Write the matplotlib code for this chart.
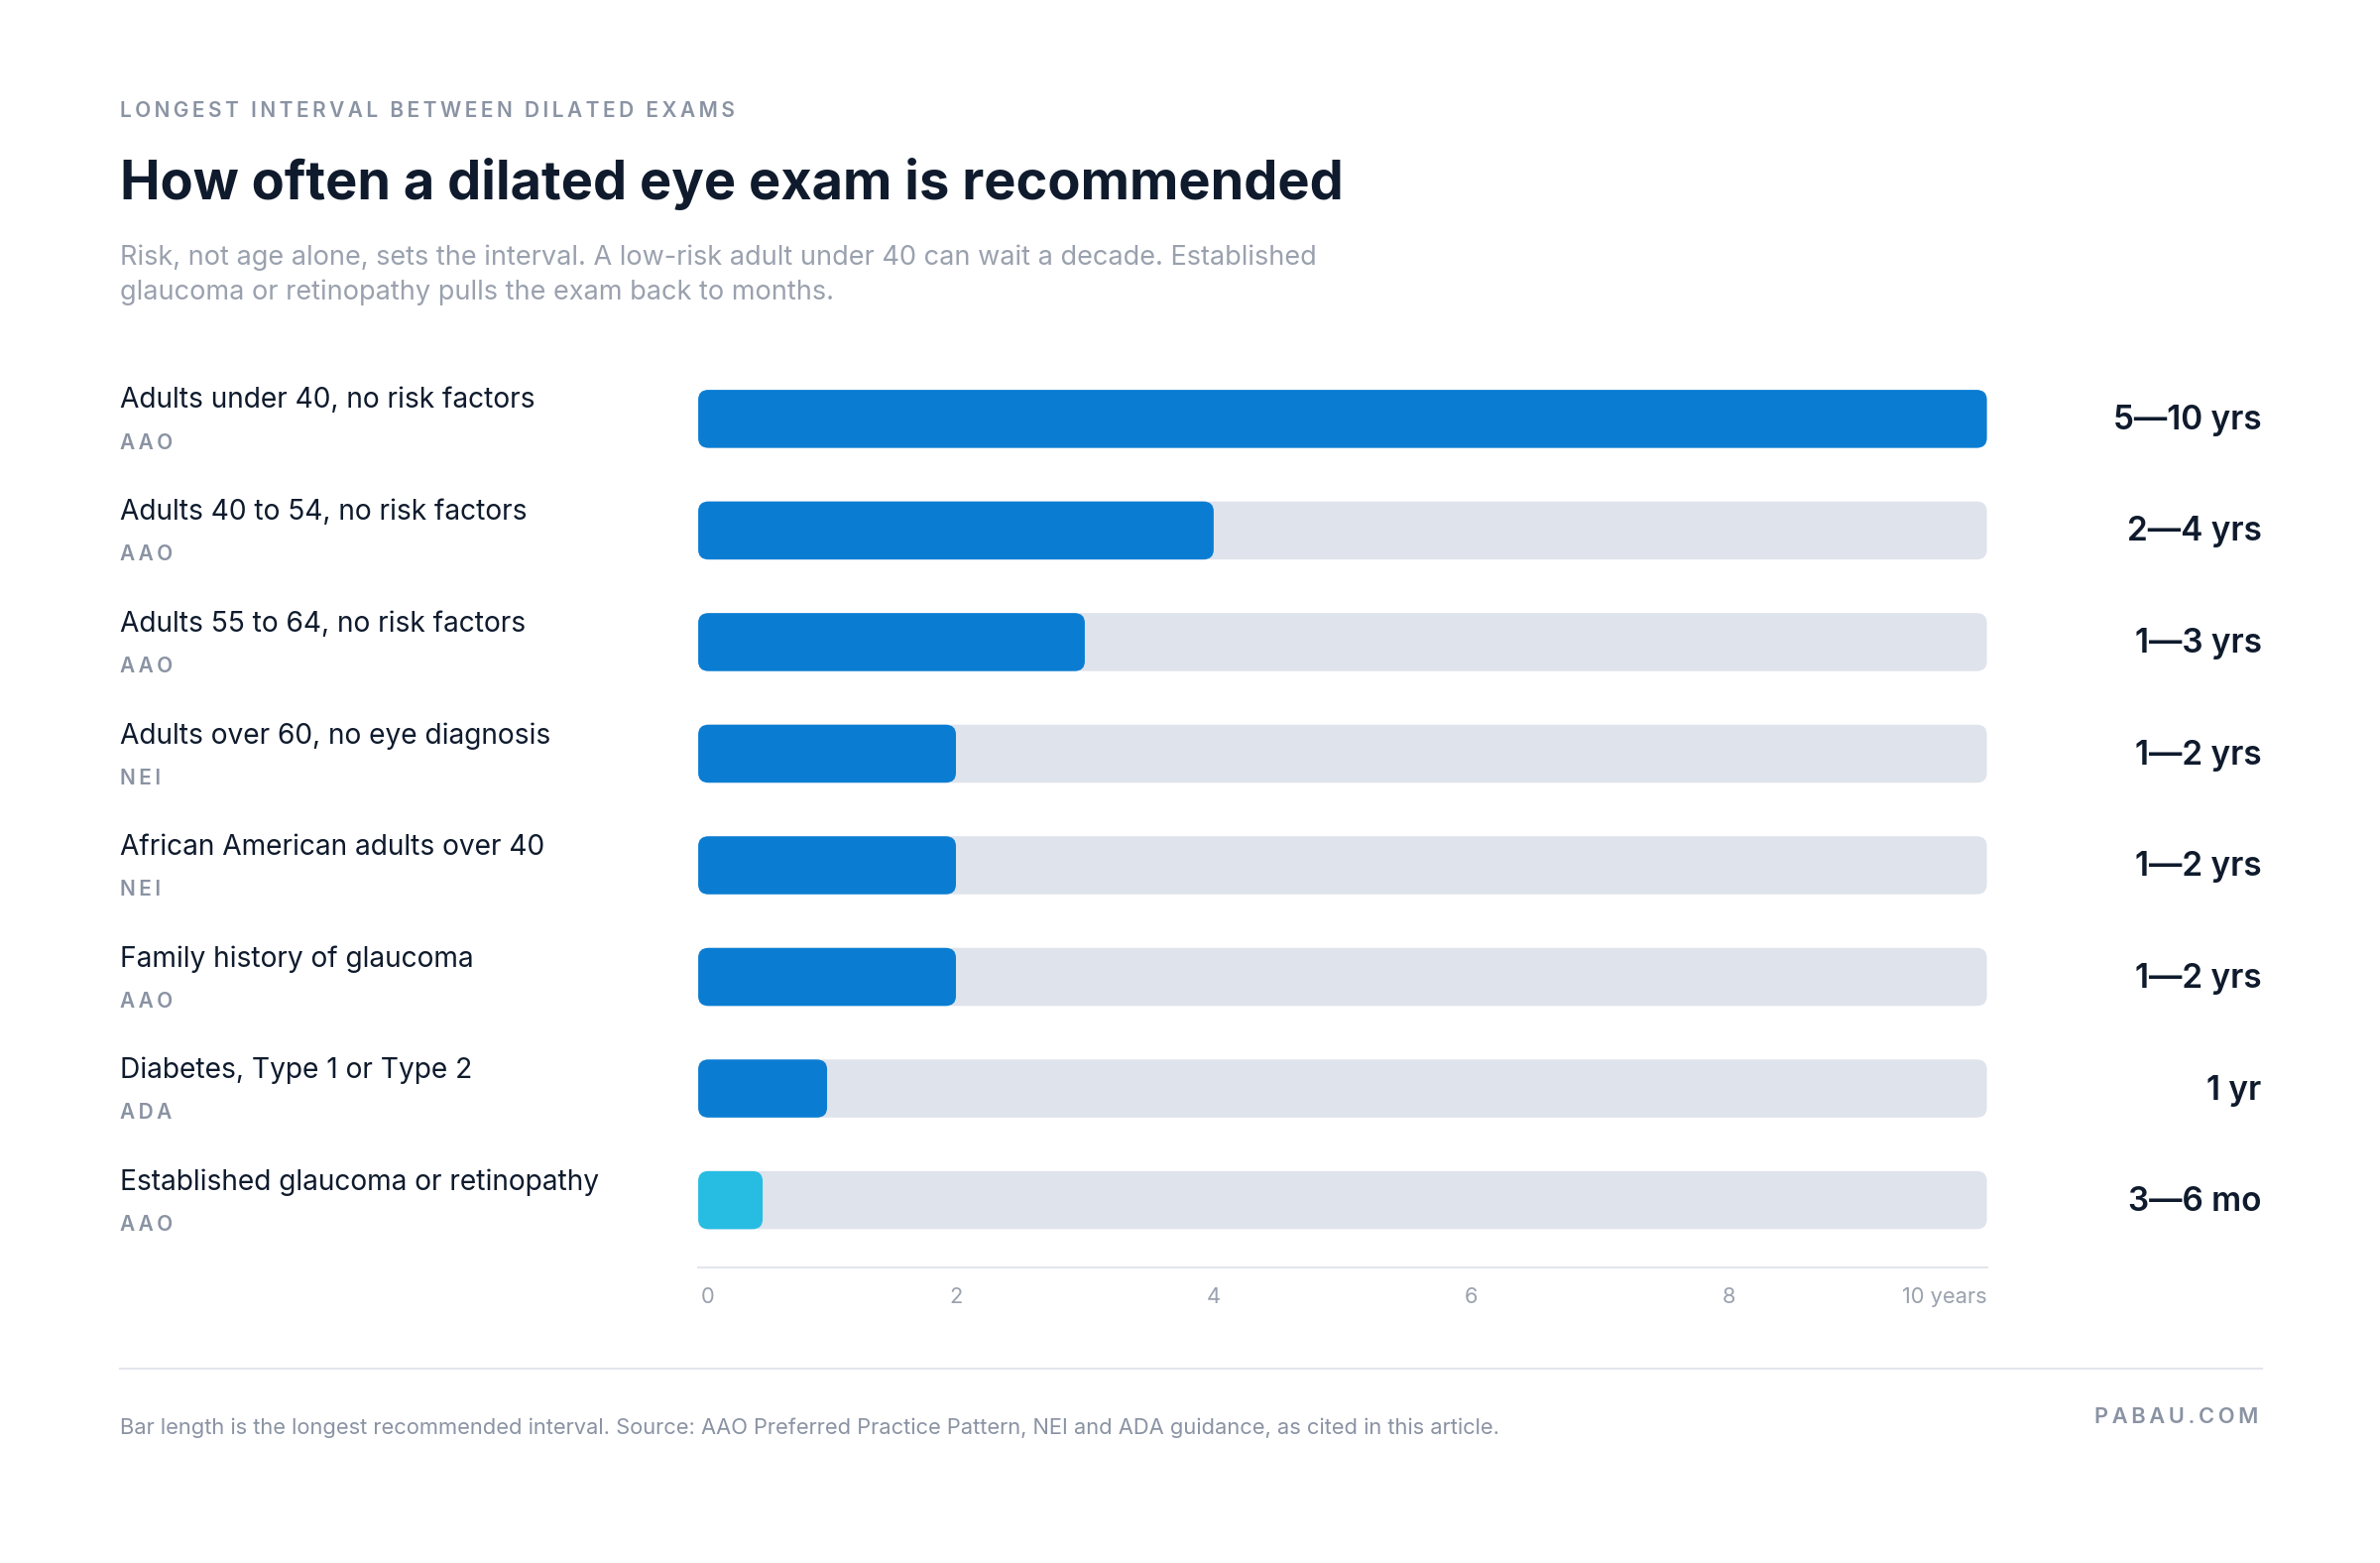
import matplotlib.pyplot as plt
from matplotlib.patches import FancyBboxPatch
from matplotlib.lines import Line2D

plt.rcParams['font.family'] = ['Inter', 'DejaVu Sans']

categories = ["Adults under 40, no risk factors", "Adults 40 to 54, no risk factors",
              "Adults 55 to 64, no risk factors", "Adults over 60, no eye diagnosis",
              "African American adults over 40", "Family history of glaucoma",
              "Diabetes, Type 1 or Type 2", "Established glaucoma or retinopathy"]
sources = ["AAO", "AAO", "AAO", "NEI", "NEI", "AAO", "ADA", "AAO"]
values = [10, 4, 3, 2, 2, 2, 1, 0.5]
value_labels = ["5—10 yrs", "2—4 yrs", "1—3 yrs", "1—2 yrs", "1—2 yrs", "1—2 yrs", "1 yr", "3—6 mo"]
ticks = [0, 2, 4, 6, 8, 10]
tick_labels = ["0", "2", "4", "6", "8", "10 years"]

W, H = 1568.0, 1030.0
fig = plt.figure(figsize=(16, 1576 / 150), dpi=150)
fig.patch.set_facecolor("white")

def fx(x):
    return x / W

def fy(y):
    return 1 - y / H

def t(x, y, s, **kw):
    fig.text(fx(x), fy(y), s, **kw)

def spaced(s):
    return "\u2009".join(s)

dark = "#0F1B2D"
grey = "#8A93A3"
blue = "#0A7DD3"
cyan = "#27BCE2"
track = "#DFE3EC"

t(79, 73, spaced("LONGEST INTERVAL BETWEEN DILATED EXAMS"),
  fontsize=10, color=grey, fontweight="semibold", va="center")
t(79, 121, "How often a dilated eye exam is recommended", fontsize=26, color=dark,
  fontweight="bold", va="center")
t(79, 181, "Risk, not age alone, sets the interval. A low-risk adult under 40 can wait a decade. Established\n"
  "glaucoma or retinopathy pulls the exam back to months.", fontsize=13, color="#9AA1AE",
  va="center", linespacing=1.4)

ax = fig.add_axes([fx(460), fy(835), fx(1309) - fx(460), (835 - 240) / H])
ax.set_xlim(0, 10)
ax.set_ylim(7.6, -0.49)
ax.axis("off")

bh = 0.52
for i, v in enumerate(values):
    ax.add_patch(FancyBboxPatch((0, i - bh / 2), 10, bh, boxstyle="round,pad=0,rounding_size=0.08",
                                mutation_aspect=1.1, fc=track, ec="none"))
    ax.add_patch(FancyBboxPatch((0, i - bh / 2), v, bh, boxstyle="round,pad=0,rounding_size=0.08",
                                mutation_aspect=1.1, fc=cyan if i == 7 else blue, ec="none"))
    yc = 276 + i * 73.6
    t(79, yc - 12, categories[i], fontsize=13.5, color=dark, va="center")
    t(79, yc + 16, spaced(sources[i]), fontsize=10, color=grey, fontweight="semibold", va="center")
    t(1490, yc + 1, value_labels[i], fontsize=16, color=dark, fontweight="semibold", va="center", ha="right")

ax.add_line(Line2D([0, 10], [7.6, 7.6], color="#E3E6EC", lw=1, clip_on=False))
for tk, lb in zip(ticks, tick_labels):
    ax.annotate(lb, (tk + (0.02 if tk == 0 else 0), 7.6), xytext=(0, -10), textcoords="offset points",
                fontsize=10.5, color="#9AA1AE",
                ha="left" if tk == 0 else ("right" if tk == 10 else "center"), va="top")

fig.add_artist(Line2D([fx(79), fx(1490)], [fy(902), fy(902)], color="#E3E6EC", lw=1))
t(79, 941, "Bar length is the longest recommended interval. Source: AAO Preferred Practice Pattern, NEI and ADA guidance, as cited in this article.",
  fontsize=10.5, color=grey, va="center")
t(1488, 934, spaced("PABAU.COM"), fontsize=10.5, color=grey, fontweight="semibold", va="center", ha="right")

fig.savefig("out.png", dpi=150, facecolor="white")
